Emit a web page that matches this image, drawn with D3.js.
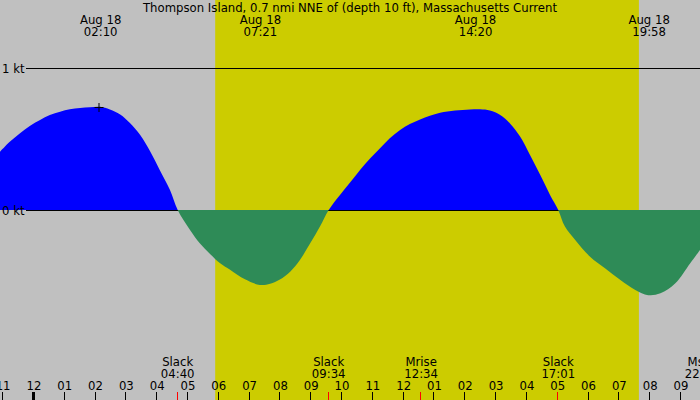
<!DOCTYPE html>
<html>
<head>
<meta charset="utf-8">
<title>Thompson Island current</title>
<script src="https://cdn.jsdelivr.net/npm/d3@7"></script>
<style>
  body { margin: 0; }
  svg { display: block; }
  text { font-family: "DejaVu Sans", sans-serif; font-size: 11.7px; fill: #000; }
</style>
</head>
<body>
<svg id="chart" width="700" height="400"></svg>
<script>
// hours from midnight Aug 18 and current speed in knots (+ flood, - ebb)
const hours = [-1.104, -0.779, -0.455, -0.130, 0.195, 0.519, 0.844, 1.169, 1.494, 1.818,
  2.143, 2.468, 2.792, 3.117, 3.442, 3.766, 4.091, 4.416, 4.667,
  5.065, 5.390, 5.714, 6.039, 6.364, 6.851, 7.338, 7.662, 7.987, 8.312, 8.636, 8.961, 9.286, 9.567,
  9.935, 10.260, 10.584, 10.909, 11.234, 11.558, 11.883, 12.208, 12.532, 12.857, 13.182, 13.669,
  14.156, 14.481, 14.805, 15.130, 15.455, 15.779, 16.104, 16.429, 16.753, 17.017,
  17.240, 17.565, 18.052, 18.539, 19.026, 19.513, 19.935, 20.325, 20.812, 21.299, 21.623];
const knots = [0.41, 0.48, 0.54, 0.592, 0.634, 0.669, 0.692, 0.709, 0.718, 0.723,
  0.727, 0.708, 0.672, 0.612, 0.528, 0.415, 0.282, 0.141, 0,
  -0.141, -0.235, -0.31, -0.373, -0.42, -0.488, -0.528, -0.52, -0.49, -0.434, -0.352, -0.235, -0.117, 0,
  0.106, 0.195, 0.282, 0.364, 0.434, 0.505, 0.563, 0.606, 0.638, 0.664, 0.685, 0.70,
  0.707, 0.709, 0.70, 0.669, 0.61, 0.516, 0.387, 0.246, 0.106, 0,
  -0.117, -0.211, -0.329, -0.41, -0.493, -0.563, -0.60, -0.587, -0.516, -0.375, -0.282];

// max current times (top labels)
const maxTimes = ["02:10", "07:21", "14:20", "19:58"];
const maxDate = "Aug 18";
// bottom events
const eventNames = ["Slack", "Slack", "Mrise", "Slack", "Mset"];
const eventTimes = ["04:40", "09:34", "12:34", "17:01", "21:40"];
const eventText = ["04:40", "09:34", "12:34", "17:01", "22:04"];
const sunrise = "05:53", sunset = "19:38";
const marker = { time: "02:10", knots: 0.725 };
const kLevels = [1, 0];

const title = "Thompson Island, 0.7 nmi NNE of (depth 10 ft), Massachusetts Current";

const svg = d3.select('#chart');
const width = +svg.attr('width');
const height = +svg.attr('height');

const base = new Date(2024, 7, 18, 0, 0);
const fromHours = h => d3.timeMinute.offset(base, Math.round(h * 60));
const fromHM = s => { const [h, m] = s.split(':').map(Number); return fromHours(h + m / 60); };

const x = d3.scaleTime()
  .domain([fromHours(-1.104), fromHours(21.623)])
  .range([0, width]);
const y = d3.scaleLinear().domain([0, 1]).range([210, 68]);

const data = hours.map((h, i) => ({ t: fromHours(h), v: knots[i] }));

// clip regions above / below zero
const defs = svg.append('defs');
defs.append('clipPath').attr('id', 'above')
  .append('rect').attr('x', 0).attr('y', 0).attr('width', width).attr('height', y(0));
defs.append('clipPath').attr('id', 'below')
  .append('rect').attr('x', 0).attr('y', y(0)).attr('width', width).attr('height', height - y(0));

// background + daylight
svg.append('rect').attr('width', width).attr('height', height).attr('fill', '#c0c0c0');
svg.append('rect')
  .attr('x', x(fromHM(sunrise))).attr('y', 0)
  .attr('width', x(fromHM(sunset)) - x(fromHM(sunrise)))
  .attr('height', height).attr('fill', '#cccc00');

const area = d3.area().curve(d3.curveCatmullRom.alpha(0.5))
  .x(d => x(d.t)).y0(y(0)).y1(d => y(d.v));

svg.append('path').datum(data).attr('d', area)
  .attr('clip-path', 'url(#above)').attr('fill', '#0000ff');

// kt lines
svg.selectAll('.kline').data(kLevels).join('line')
  .attr('class', 'kline')
  .attr('x1', 26).attr('x2', width)
  .attr('y1', d => y(d) + 0.5).attr('y2', d => y(d) + 0.5)
  .attr('stroke', '#000').attr('stroke-width', 1);

svg.append('path').datum(data).attr('d', area)
  .attr('clip-path', 'url(#below)').attr('fill', '#2e8b57');

svg.selectAll('.klabel').data(kLevels).join('text')
  .attr('class', 'klabel')
  .attr('x', 2).attr('y', d => y(d) + 5)
  .text(d => d + ' kt');

// max marker
const mx = Math.round(x(fromHM(marker.time))) - 2.5, my = Math.round(y(marker.knots)) + 0.5;
svg.append('path')
  .attr('d', `M${mx - 4},${my}H${mx + 5}M${mx + 0.5},${my - 4.5}V${my + 4.5}`)
  .attr('stroke', '#000').attr('stroke-width', 1);

// title
svg.append('text').attr('x', width / 2).attr('y', 12)
  .attr('text-anchor', 'middle').text(title);

// top labels
const maxLabels = svg.selectAll('.maxlab').data(maxTimes).join('g')
  .attr('class', 'maxlab')
  .attr('transform', d => `translate(${x(fromHM(d))},0)`);
maxLabels.append('text').attr('y', 24).attr('text-anchor', 'middle').text(maxDate);
maxLabels.append('text').attr('y', 36).attr('text-anchor', 'middle').text(d => d);

// bottom event labels
const ev = svg.selectAll('.evlab').data(eventNames).join('g')
  .attr('class', 'evlab')
  .attr('transform', (d, i) => `translate(${x(fromHM(eventTimes[i]))},0)`);
ev.append('text').attr('y', 366).attr('text-anchor', 'middle').text(d => d);
ev.append('text').attr('y', 378).attr('text-anchor', 'middle').text((d, i) => eventText[i]);

// hour axis
const ticks = x.ticks(d3.timeHour.every(1));
svg.selectAll('.hlab').data(ticks).join('text')
  .attr('class', 'hlab')
  .attr('x', d => x(d)).attr('y', 390)
  .attr('text-anchor', 'middle')
  .text(d3.timeFormat('%I'));
svg.selectAll('.htick').data(ticks).join('line')
  .attr('class', 'htick')
  .attr('x1', d => Math.round(x(d)) - 0.5).attr('x2', d => Math.round(x(d)) - 0.5)
  .attr('y1', 392).attr('y2', height)
  .attr('stroke', '#000')
  .attr('stroke-width', d => d.getHours() === 0 ? 3 : 1);

// red event ticks
svg.selectAll('.etick').data(eventTimes).join('line')
  .attr('class', 'etick')
  .attr('x1', d => Math.round(x(fromHM(d))) - 0.5).attr('x2', d => Math.round(x(fromHM(d))) - 0.5)
  .attr('y1', 392).attr('y2', height)
  .attr('stroke', '#ff0000').attr('stroke-width', 1);
</script>
</body>
</html>
